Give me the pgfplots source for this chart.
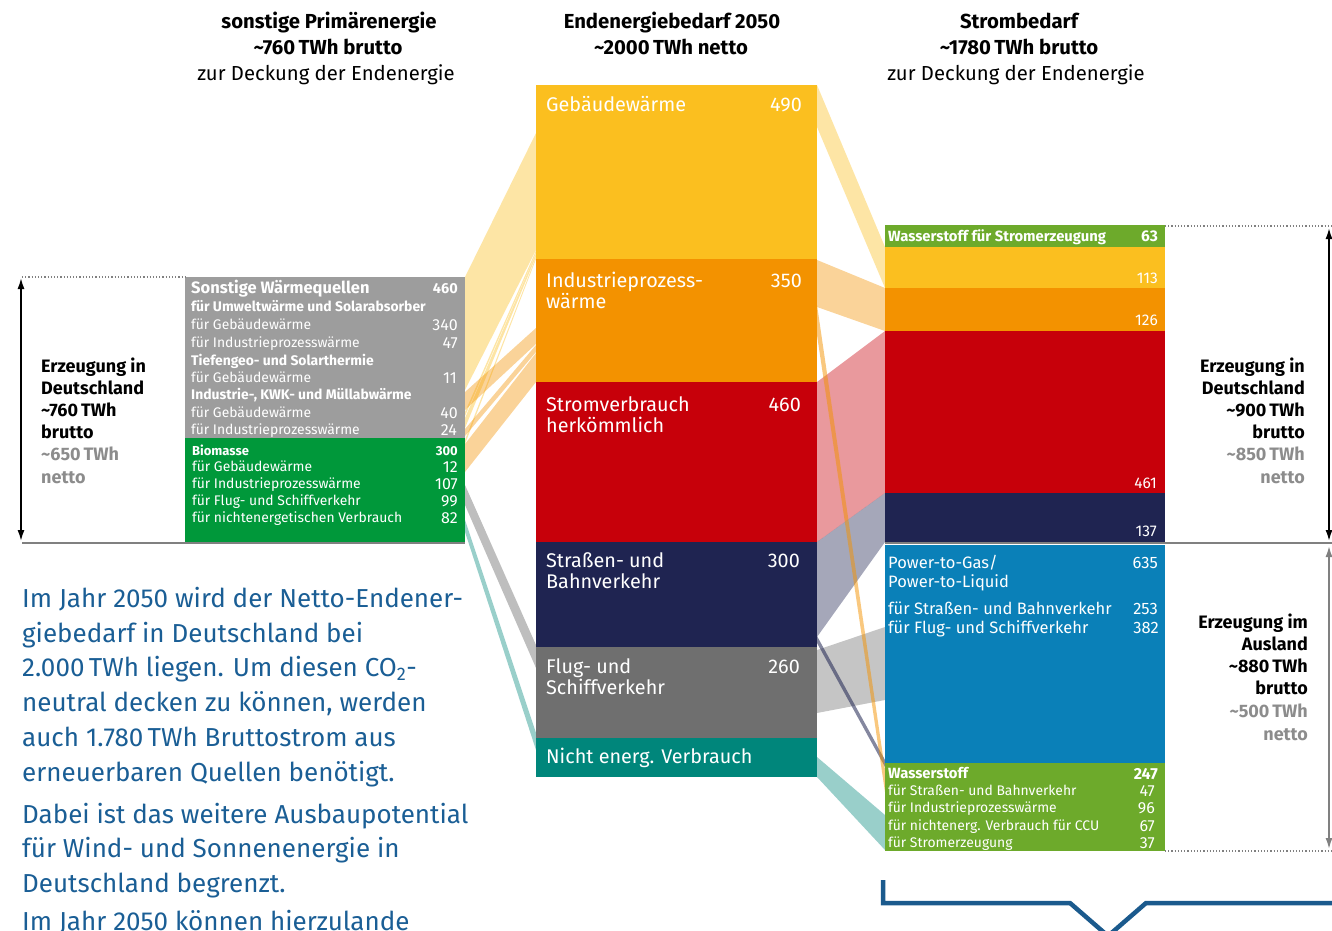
\documentclass[border=0pt]{standalone}
\usepackage{fontspec}
\setmainfont{Fira Sans}
\usepackage{pgfplots}
\pgfplotsset{compat=1.18}
\usetikzlibrary{arrows.meta}
\definecolor{cyel}{HTML}{FBBF1F}
\definecolor{cora}{HTML}{F39200}
\definecolor{cred}{HTML}{C7000A}
\definecolor{cnav}{HTML}{1F2451}
\definecolor{cgry}{HTML}{6F6F6F}
\definecolor{ctea}{HTML}{00867B}
\definecolor{clgr}{HTML}{9D9D9D}
\definecolor{cgrn}{HTML}{00983A}
\definecolor{clgn}{HTML}{6DAA2B}
\definecolor{cblu}{HTML}{0A80B8}
\definecolor{ctxt}{HTML}{1A5E95}
\definecolor{cbrk}{HTML}{1B5A8D}
\definecolor{csub}{HTML}{8C8C8C}
\tikzset{
  L/.style={anchor=west, inner sep=0pt, text depth=0pt},
  R/.style={anchor=east, inner sep=0pt, text depth=0pt},
  C/.style={anchor=center, inner sep=0pt, text depth=0pt},
  F/.style 2 args={font=\fontsize{#1bp}{#1bp}\selectfont, text height=#2bp},
  FB/.style 2 args={font=\fontsize{#1bp}{#1bp}\selectfont\bfseries, text height=#2bp},
  hd/.style={F={20.3}{14.0}},
  hb/.style={FB={20.3}{14.0}},
  md/.style={F={19.8}{13.66}, text=white},
  ls/.style={F={13.9}{9.59}, text=white},
  lb/.style={FB={13.9}{9.59}, text=white},
  nm/.style={F={16}{11.04}, text=white},
  sd/.style={FB={18}{12.4}},
  bd/.style={F={26}{17.9}, text=ctxt},
}
\newcommand{\tl}{\textasciitilde}
\begin{document}
\begin{tikzpicture}
\begin{axis}[scale only axis, width=1332bp, height=931bp,
  xmin=0, xmax=1332, ymin=0, ymax=931, y dir=reverse,
  hide axis, clip=false,
  every axis plot/.append style={mark=none}]
\coordinate (bbA) at (0,931);
\coordinate (bbB) at (1332,0);
% ---------- left flows ----------
\addplot[draw=none, fill=cyel, fill opacity=0.4] coordinates {(465,277) (536,133) (536,250) (465,390)};
\addplot[draw=none, fill=cyel, fill opacity=0.4] coordinates {(465,412) (536,250.5) (536,253) (465,416)};
\addplot[draw=none, fill=cyel, fill opacity=0.4] coordinates {(465,418) (536,253.5) (536,256.5) (465,428)};
\addplot[draw=none, fill=cyel, fill opacity=0.4] coordinates {(465,440) (536,257) (536,259) (465,444)};
\addplot[draw=none, fill=cora, fill opacity=0.4] coordinates {(465,392) (536,328) (536,344) (465,410)};
\addplot[draw=none, fill=cora, fill opacity=0.4] coordinates {(465,429) (536,345) (536,352) (465,436)};
\addplot[draw=none, fill=cora, fill opacity=0.4] coordinates {(465,444) (536,353) (536,382) (465,472)};
\addplot[draw=none, fill=cgry, fill opacity=0.45] coordinates {(465,485) (536,645) (536,668) (465,505)};
\addplot[draw=none, fill=ctea, fill opacity=0.4] coordinates {(465,520) (536,733) (536,750) (465,532)};
% ---------- right flows ----------
\addplot[draw=none, fill=cred, fill opacity=0.4] coordinates {(817,382) (885,331) (885,493) (817,542)};
\addplot[draw=none, fill=cnav, fill opacity=0.4] coordinates {(817,542) (885,493) (885,542) (817,637)};
\addplot[draw=none, fill=cgry, fill opacity=0.4] coordinates {(817,650) (885,627) (885,700) (817,713)};
\addplot[draw=none, fill=cnav, fill opacity=0.55] coordinates {(817,636) (885,760) (885,767) (817,643)};
\addplot[draw=none, fill=cora, fill opacity=0.5] coordinates {(817,305) (885,770) (885,792) (817,335)};
\addplot[draw=none, fill=cyel, fill opacity=0.4] coordinates {(817,85) (885,247) (885,288) (817,127)};
\addplot[draw=none, fill=cora, fill opacity=0.4] coordinates {(817,260) (885,288) (885,331) (817,307)};
\addplot[draw=none, fill=ctea, fill opacity=0.4] coordinates {(817,757) (885,815) (885,850) (817,777)};
% ---------- middle blocks ----------
\addplot[draw=none, fill=cyel] coordinates {(536,85) (817,85) (817,259) (536,259)};
\addplot[draw=none, fill=cora] coordinates {(536,259) (817,259) (817,382) (536,382)};
\addplot[draw=none, fill=cred] coordinates {(536,382) (817,382) (817,542) (536,542)};
\addplot[draw=none, fill=cnav] coordinates {(536,542) (817,542) (817,647) (536,647)};
\addplot[draw=none, fill=cgry] coordinates {(536,647) (817,647) (817,738) (536,738)};
\addplot[draw=none, fill=ctea] coordinates {(536,738) (817,738) (817,777) (536,777)};
% ---------- left blocks ----------
\addplot[draw=none, fill=clgr] coordinates {(185,277) (465,277) (465,438) (185,438)};
\addplot[draw=none, fill=cgrn] coordinates {(185,438) (465,438) (465,542) (185,542)};
% ---------- right blocks ----------
\addplot[draw=none, fill=clgn] coordinates {(885,225) (1165,225) (1165,247) (885,247)};
\addplot[draw=none, fill=cyel] coordinates {(885,247) (1165,247) (1165,288) (885,288)};
\addplot[draw=none, fill=cora] coordinates {(885,288) (1165,288) (1165,331) (885,331)};
\addplot[draw=none, fill=cred] coordinates {(885,331) (1165,331) (1165,493) (885,493)};
\addplot[draw=none, fill=cnav] coordinates {(885,493) (1165,493) (1165,542) (885,542)};
\addplot[draw=none, fill=cblu] coordinates {(885,544.5) (1165,544.5) (1165,763) (885,763)};
\addplot[draw=none, fill=clgn] coordinates {(885,763) (1165,763) (1165,851) (885,851)};
% ---------- lines ----------
\addplot[color=gray, line width=1.8bp] coordinates {(22,543) (465,543)};
\addplot[color=gray, line width=1.8bp] coordinates {(885,543) (1332,543)};
\addplot[color=gray, dotted, line width=1.2bp] coordinates {(22,277) (185,277)};
\addplot[color=gray, dotted, line width=1.2bp] coordinates {(1165,226) (1332,226)};
\addplot[color=gray, dotted, line width=1.2bp] coordinates {(1165,851) (1332,851)};
\addplot[color=black, line width=1.6bp, {Latex[length=11bp,width=7bp]}-{Latex[length=11bp,width=7bp]}] coordinates {(21,278) (21,541)};
\addplot[color=black, line width=1.6bp, {Latex[length=11bp,width=7bp]}-{Latex[length=11bp,width=7bp]}] coordinates {(1329,228) (1329,541)};
\addplot[color=gray, line width=1.6bp, {Latex[length=11bp,width=7bp]}-{Latex[length=11bp,width=7bp]}] coordinates {(1329,546) (1329,849)};
\addplot[color=cbrk, line width=4.5bp] coordinates {(883,880) (883,903) (1070,903) (1108,936) (1146,903) (1345,903)};
% ---------- headers ----------
\node[C, hb] at (329,22) {sonstige Primärenergie};
\node[C, hb] at (328,48) {\tl760\,TWh brutto};
\node[C, hd] at (326,74) {zur Deckung der Endenergie};
\node[C, hb] at (672,22) {Endenergiebedarf 2050};
\node[C, hb] at (671,48) {\tl2000\,TWh netto};
\node[C, hb] at (1019,22) {Strombedarf};
\node[C, hb] at (1019,48) {\tl1780\,TWh brutto};
\node[C, hd] at (1016,74) {zur Deckung der Endenergie};
% ---------- middle labels ----------
\node[L, md] at (546,104.5) {Gebäudewärme};
\node[R, md] at (802,104.5) {490};
\node[L, md] at (546,280.5) {Industrieprozess-};
\node[L, md] at (546,302) {wärme};
\node[R, md] at (802,280.5) {350};
\node[L, md] at (546,404.5) {Stromverbrauch};
\node[L, md] at (546,425.5) {herkömmlich};
\node[R, md] at (801,404.5) {460};
\node[L, md] at (546,560.5) {Straßen- und};
\node[L, md] at (546,581.5) {Bahnverkehr};
\node[R, md] at (800,560.5) {300};
\node[L, md] at (546,666.5) {Flug- und};
\node[L, md] at (546,687.5) {Schiffverkehr};
\node[R, md] at (800,666.5) {260};
\node[L, md] at (546,756.5) {Nicht energ. Verbrauch};
% ---------- left box labels ----------
\node[L, FB={16.5}{11.4}, text=white] at (191,288) {Sonstige Wärmequellen};
\node[R, FB={14.5}{10.0}, text=white] at (458,288) {460};
\node[L, lb] at (191,307) {für Umweltwärme und Solarabsorber};
\node[L, ls] at (191,325) {für Gebäudewärme};
\node[R, nm] at (458,325) {340};
\node[L, ls] at (191,342.5) {für Industrieprozesswärme};
\node[R, nm] at (458,342.5) {47};
\node[L, lb] at (191,360.5) {Tiefengeo- und Solarthermie};
\node[L, ls] at (191,378) {für Gebäudewärme};
\node[R, nm] at (457,378) {11};
\node[L, lb] at (191,395) {Industrie-, KWK- und Müllabwärme};
\node[L, ls] at (191,413) {für Gebäudewärme};
\node[R, nm] at (458,413) {40};
\node[L, ls] at (191,430) {für Industrieprozesswärme};
\node[R, nm] at (457,430) {24};
\node[L, FB={13}{8.97}, text=white] at (192,451) {Biomasse};
\node[R, FB={13}{8.97}, text=white] at (458,451) {300};
\node[L, ls] at (192,467) {für Gebäudewärme};
\node[R, nm] at (458,467) {12};
\node[L, ls] at (192,484) {für Industrieprozesswärme};
\node[R, nm] at (458,484) {107};
\node[L, ls] at (192,500.5) {für Flug- und Schiffverkehr};
\node[R, nm] at (458,500.5) {99};
\node[L, ls] at (192,517.5) {für nichtenergetischen Verbrauch};
\node[R, nm] at (458,517.5) {82};
% ---------- right box labels ----------
\node[L, FB={14.8}{10.2}, text=white] at (888,236) {Wasserstoff für Stromerzeugung};
\node[R, FB={15.5}{10.7}, text=white] at (1158,236) {63};
\node[R, F={15.5}{10.7}, text=white] at (1158,278) {113};
\node[R, F={15.5}{10.7}, text=white] at (1158,320.5) {126};
\node[R, F={15.5}{10.7}, text=white] at (1157,483.5) {461};
\node[R, F={15.5}{10.7}, text=white] at (1157,531.5) {137};
\node[L, F={16.5}{11.4}, text=white] at (888,562.5) {Power-to-Gas/};
\node[L, F={16.5}{11.4}, text=white] at (888,582) {Power-to-Liquid};
\node[R, F={16.5}{11.4}, text=white] at (1158,562.5) {635};
\node[L, F={16.5}{11.4}, text=white] at (888,608.5) {für Straßen- und Bahnverkehr};
\node[R, F={16.5}{11.4}, text=white] at (1158,608.5) {253};
\node[L, F={16.5}{11.4}, text=white] at (888,627.5) {für Flug- und Schiffverkehr};
\node[R, F={16.5}{11.4}, text=white] at (1159,627.5) {382};
\node[L, FB={14.8}{10.2}, text=white] at (888,773.5) {Wasserstoff};
\node[R, FB={16}{11.04}, text=white] at (1158,773.5) {247};
\node[L, ls] at (888,790.5) {für Straßen- und Bahnverkehr};
\node[R, nm] at (1155,790.5) {47};
\node[L, ls] at (888,808) {für Industrieprozesswärme};
\node[R, nm] at (1155,808) {96};
\node[L, ls] at (888,825.5) {für nichtenerg. Verbrauch für CCU};
\node[R, nm] at (1155,825.5) {67};
\node[L, ls] at (888,842.5) {für Stromerzeugung};
\node[R, nm] at (1155,842.5) {37};
% ---------- side texts ----------
\node[L, sd] at (41,366.5) {Erzeugung in};
\node[L, sd] at (41,388.5) {Deutschland};
\node[L, sd] at (41,410) {\tl760\,TWh};
\node[L, sd] at (41,432) {brutto};
\node[L, sd, text=csub] at (41,454) {\tl650\,TWh};
\node[L, sd, text=csub] at (41,477) {netto};
\node[R, sd] at (1305,366.5) {Erzeugung in};
\node[R, sd] at (1305,388) {Deutschland};
\node[R, sd] at (1305,410) {\tl900\,TWh};
\node[R, sd] at (1305,432) {brutto};
\node[R, sd, text=csub] at (1305,454) {\tl850\,TWh};
\node[R, sd, text=csub] at (1305,477) {netto};
\node[R, sd] at (1308,622) {Erzeugung im};
\node[R, sd] at (1308,644) {Ausland};
\node[R, sd] at (1308,666) {\tl880\,TWh};
\node[R, sd] at (1308,688) {brutto};
\node[R, sd, text=csub] at (1308,711) {\tl500\,TWh};
\node[R, sd, text=csub] at (1308,734) {netto};
% ---------- body text ----------
\node[L, bd] at (22,599) {Im Jahr 2050 wird der Netto-Endener-};
\node[L, bd] at (22,633.5) {giebedarf in Deutschland bei};
\node[L, bd] at (22,668) {2.000\,TWh liegen. Um diesen CO\textsubscript{2}-};
\node[L, bd] at (22,703) {neutral decken zu können, werden};
\node[L, bd] at (22,738) {auch 1.780\,TWh Bruttostrom aus};
\node[L, bd] at (22,772.5) {erneuerbaren Quellen benötigt.};
\node[L, bd] at (22,814.5) {Dabei ist das weitere Ausbaupotential};
\node[L, bd] at (22,849) {für Wind- und Sonnenenergie in};
\node[L, bd] at (22,884) {Deutschland begrenzt.};
\node[L, bd] at (22,922) {Im Jahr 2050 können hierzulande};
\end{axis}
\pgfresetboundingbox
\path[use as bounding box] (bbA) rectangle (bbB);
\end{tikzpicture}
\end{document}
